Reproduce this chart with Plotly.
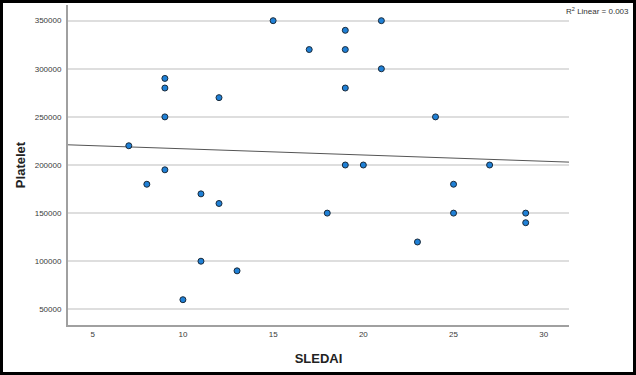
import numpy as np
import plotly.graph_objects as go

sledai = [7, 8, 9, 9, 9, 9, 10, 11, 11, 12, 12, 13, 15, 17, 18, 19, 19, 19, 19, 20, 21, 21, 23, 24, 25, 25, 27, 29, 29]
platelet = [220000, 180000, 290000, 280000, 250000, 195000, 60000, 170000, 100000, 270000, 160000, 90000,
            350000, 320000, 150000, 340000, 320000, 280000, 200000, 200000, 350000, 300000, 120000, 250000,
            180000, 150000, 200000, 150000, 140000]
x_ticks = [5, 10, 15, 20, 25, 30]
y_ticks = [50000, 100000, 150000, 200000, 250000, 300000, 350000]
r2_label = "R<sup>2</sup> Linear = 0.003"
# linear fit line as drawn in the reference
fit_intercept = 223350
fit_slope = -648

x_range = [3.63, 31.4]
y_range = [33700, 366300]

fit_x = np.array(x_range)
fit_y = fit_intercept + fit_slope * fit_x

W, H = 636, 375
L, R, T, B = 68, 67, 5, 50
pw, ph = W - L - R, H - T - B

def px_x(p):
    return (p - L) / pw

def px_y(p):
    return (H - B - p) / ph

fig = go.Figure()
fig.add_trace(go.Scatter(x=fit_x, y=fit_y, mode="lines",
                         line=dict(color="#555555", width=1), hoverinfo="skip", showlegend=False))
fig.add_trace(go.Scatter(x=sledai, y=platelet, mode="markers",
                         marker=dict(size=6, color="#1f80d6", line=dict(color="#1a2a3a", width=1)),
                         showlegend=False))

tickfont = dict(family="Liberation Sans, Arial", size=8, color="#3a3a3a")
fig.update_xaxes(range=x_range, tickvals=x_ticks, ticktext=[str(v) for v in x_ticks],
                 showgrid=False, zeroline=False, automargin=False,
                 showline=True, linecolor="#a0a0a0", linewidth=2, ticks="", tickfont=tickfont,
                 title=dict(text="<b>SLEDAI</b>", font=dict(family="Liberation Sans, Arial", size=13, color="#222222"),
                            standoff=16))
fig.update_yaxes(range=y_range, tickvals=y_ticks, ticktext=[str(v) for v in y_ticks],
                 showgrid=True, gridcolor="#dedede", gridwidth=2, automargin=False,
                 zeroline=False, showline=True, linecolor="#a0a0a0", linewidth=2, ticks="",
                 ticklabelstandoff=3, tickfont=tickfont,
                 title=dict(text="<b>Platelet</b>", font=dict(family="Liberation Sans, Arial", size=13, color="#222222"),
                            standoff=6))

fig.add_annotation(text=r2_label, xref="paper", yref="paper", x=px_x(631), y=px_y(11),
                   xanchor="right", yanchor="middle", showarrow=False,
                   font=dict(family="Liberation Sans, Arial", size=8, color="#333333"))

fig.add_shape(type="rect", xref="paper", yref="paper",
              x0=px_x(1.5), x1=px_x(634.5), y0=px_y(373.5), y1=px_y(1.5),
              line=dict(color="black", width=3), fillcolor="rgba(0,0,0,0)", layer="above")

fig.update_layout(width=W, height=H, margin=dict(l=L, r=R, t=T, b=B),
                  paper_bgcolor="white", plot_bgcolor="white")
fig.write_html("out.html", config={"displayModeBar": False},
               post_script="document.body.style.margin='0';document.body.style.overflow='hidden';")
